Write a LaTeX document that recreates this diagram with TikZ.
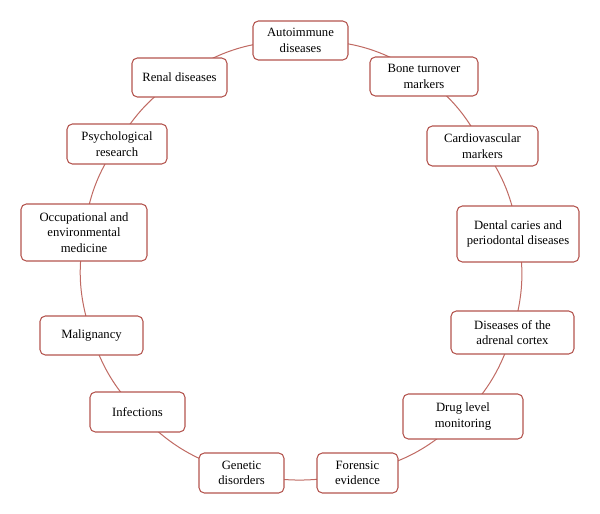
\documentclass[tikz,border=0pt]{standalone}
\usepackage{fontspec}
\setmainfont{Liberation Serif}
\pgfdeclarelayer{background}
\pgfsetlayers{background,main}
\begin{document}
\begin{tikzpicture}[x=0.75pt,y=-0.75pt,
  box/.style={draw=boxred, fill=white, rounded corners=4pt, line width=0.8pt,
    align=center, inner sep=0pt, font=\fontsize{9.5}{11.5}\selectfont},
  link/.style={draw=linkred, line width=0.75pt}]
\definecolor{boxred}{HTML}{B4554F}
\definecolor{linkred}{HTML}{C06A63}
\useasboundingbox (0,0) rectangle (600,514);
\node[box, minimum width=71.25pt, minimum height=29.25pt] (auto) at (300.5,40.5) {Autoimmune\\diseases};
\node[box, minimum width=81pt, minimum height=29.25pt] (bone) at (424,76.5) {Bone turnover\\markers};
\node[box, minimum width=83.25pt, minimum height=30pt] (cardio) at (482.5,146) {Cardiovascular\\markers};
\node[box, minimum width=91.5pt, minimum height=42pt] (dental) at (518,234) {Dental caries and\\periodontal diseases};
\node[box, minimum width=92.25pt, minimum height=32.25pt] (adrenal) at (512.5,332.5) {Diseases of the\\adrenal cortex};
\node[box, minimum width=90pt, minimum height=33.75pt] (drug) at (463,416.5) {Drug level\\monitoring};
\node[box, minimum width=60.75pt, minimum height=30pt] (forensic) at (357.5,473) {Forensic\\evidence};
\node[box, minimum width=63.75pt, minimum height=30pt] (genetic) at (241.5,473) {Genetic\\disorders};
\node[box, minimum width=71.25pt, minimum height=30pt] (infect) at (137.5,412) {Infections};
\node[box, minimum width=77.25pt, minimum height=29.25pt] (malig) at (91.5,335.5) {Malignancy};
\node[box, minimum width=94.5pt, minimum height=42.75pt] (occup) at (84,232.5) {Occupational and\\environmental\\medicine};
\node[box, minimum width=75pt, minimum height=30pt] (psych) at (117,144) {Psychological\\research};
\node[box, minimum width=71.25pt, minimum height=29.25pt] (renal) at (179.5,77.5) {Renal diseases};
\begin{pgfonlayer}{background}
\fill[white] (0,0) rectangle (600,514);
\path[link] (auto.center) to[bend left=17] (bone.center);
\path[link] (bone.center) to[bend left=12] (cardio.center);
\path[link] (cardio.center) to[bend left=12.5] (dental.center);
\path[link] (dental.center) to[bend left=12.8] (adrenal.center);
\path[link] (adrenal.center) to[bend left=12.5] (drug.center);
\path[link] (drug.center) to[bend left=15.5] (forensic.center);
\path[link] (forensic.center) to[bend left=12] (genetic.center);
\path[link] (genetic.center) to[bend left=15.7] (infect.center);
\path[link] (infect.center) to[bend left=11.6] (malig.center);
\path[link] (malig.center) to[bend left=13.6] (occup.center);
\path[link] (occup.center) to[bend left=12.5] (psych.center);
\path[link] (psych.center) to[bend left=12] (renal.center);
\path[link] (renal.center) to[bend left=16.7] (auto.center);
\end{pgfonlayer}
\end{tikzpicture}
\end{document}
